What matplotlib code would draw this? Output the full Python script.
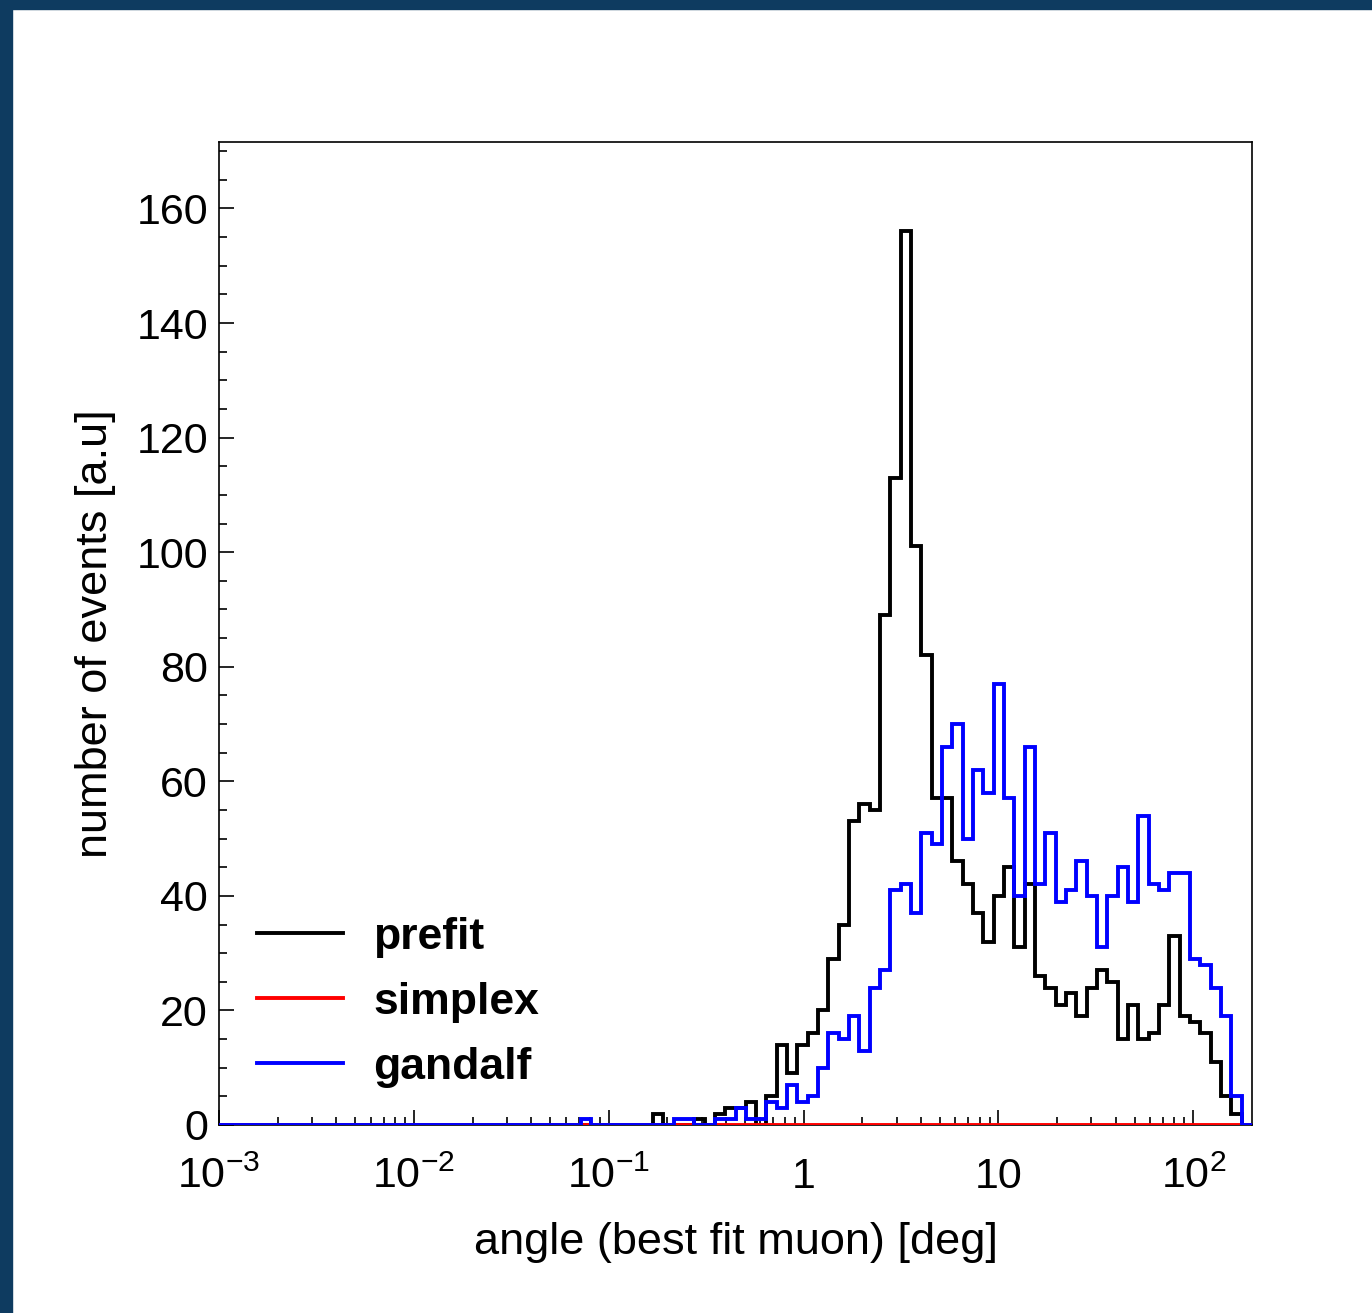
import numpy as np
import matplotlib
matplotlib.use("Agg")
import matplotlib.pyplot as plt
from matplotlib.patches import Rectangle
from matplotlib.lines import Line2D
from matplotlib.ticker import FixedLocator, NullFormatter
import matplotlib.transforms as mtransforms

plt.rcParams['font.family'] = ['Liberation Sans', 'DejaVu Sans']
plt.rcParams['mathtext.fontset'] = 'custom'
plt.rcParams['mathtext.rm'] = 'Liberation Sans'
plt.rcParams['mathtext.it'] = 'Liberation Sans:italic'
plt.rcParams['mathtext.bf'] = 'Liberation Sans:bold'

# ---- data: 100 log-spaced bins from 1e-3 to 200 deg ----
n_bins = 100
x_min, x_max = 1e-3, 200.0

prefit = [0] * 42 + [2, 0, 0, 0, 1, 0, 2, 3, 3, 4, 0,
          5, 14, 9, 14, 16, 20, 29, 35, 53, 56, 55,
          89, 113, 156, 101, 82, 57, 57, 46, 42, 37, 32, 40, 45, 31, 42,
          26, 24, 21, 23, 19, 24, 27, 25, 15, 21, 15, 16, 21, 33, 19,
          18, 16, 11, 5, 2, 0]

simplex = [0] * 100

gandalf = [0] * 35 + [1] + [0] * 8 + [1, 1, 0, 0, 1, 1, 3, 1, 1,
           4, 3, 7, 4, 5, 10, 16, 15, 19, 13, 24,
           27, 41, 42, 37, 51, 49, 66, 70, 50, 62, 58, 77, 57, 40, 66,
           42, 51, 39, 41, 46, 40, 31, 40, 45, 39, 54, 42, 41, 44, 44,
           29, 28, 24, 19, 5, 0]

series_names = ["prefit", "simplex", "gandalf"]
series_colors = ["black", "#ff0000", "#0000ff"]

x_tick_values = [1e-3, 1e-2, 1e-1, 1, 10, 100]
x_tick_labels = [r"$10^{-3}$", r"$10^{-2}$", r"$10^{-1}$", "1", "10", r"$10^{2}$"]
y_tick_values = [0, 20, 40, 60, 80, 100, 120, 140, 160]
y_max = 171.6

edges = np.logspace(np.log10(x_min), np.log10(x_max), n_bins + 1)

W, H = 1372, 1313
fig = plt.figure(figsize=(W / 100, H / 100), dpi=100, facecolor="white")

# dark blue slide border strips
bg = "#0e3b60"
fig.add_artist(Rectangle((0, 0), 12 / W, 1, transform=fig.transFigure, color=bg, zorder=0))
fig.add_artist(Rectangle((0, 1 - 9 / H), 1, 9 / H, transform=fig.transFigure, color=bg, zorder=0))

ax = fig.add_axes([219 / W, (H - 1125) / H, (1252 - 219) / W, (1125 - 142) / H])

lw = 2.8
ax.stairs(prefit, edges, color=series_colors[0], lw=lw, zorder=3)
ax.stairs(simplex, edges, color=series_colors[1], lw=lw, zorder=3.5)
ax.stairs(gandalf, edges, color=series_colors[2], lw=lw, zorder=4)

ax.set_xscale("log")
ax.set_xlim(x_min, x_max)
ax.set_ylim(0, y_max)

for sp in ax.spines.values():
    sp.set_linewidth(1.2)
    sp.set_zorder(2)

# y ticks
ax.yaxis.set_major_locator(FixedLocator(y_tick_values))
ax.yaxis.set_minor_locator(FixedLocator(np.arange(0, y_max, 5)))
ax.tick_params(axis="y", which="major", direction="in", length=11, width=1.2,
               labelsize=31, pad=8, right=False)
ax.tick_params(axis="y", which="minor", direction="in", length=5.5, width=1.2, right=False)

# x ticks
ax.xaxis.set_major_locator(FixedLocator(x_tick_values))
minors = [m * 10.0 ** d for d in range(-3, 3) for m in range(2, 10) if m * 10.0 ** d < x_max]
ax.xaxis.set_minor_locator(FixedLocator(minors))
ax.xaxis.set_major_formatter(NullFormatter())
ax.xaxis.set_minor_formatter(NullFormatter())
ax.tick_params(axis="x", which="major", direction="in", length=10.5, width=1.2, top=False)
ax.tick_params(axis="x", which="minor", direction="in", length=5.5, width=1.2, top=False)

trans = mtransforms.blended_transform_factory(ax.transData, ax.transAxes)
for v, lab in zip(x_tick_values, x_tick_labels):
    ax.text(v, -0.064, lab, transform=trans, ha="center", va="baseline", fontsize=31)

ax.set_xlabel("angle (best fit muon) [deg]", fontsize=32.5)
ax.xaxis.set_label_coords(0.5, -0.099)
ax.set_ylabel("number of events [a.u]", fontsize=32.5)
ax.yaxis.set_label_coords(-0.1, 0.5)

handles = [Line2D([], [], color=c, lw=lw) for c in series_colors]
leg = ax.legend(handles, series_names, loc="upper left", bbox_to_anchor=(0.0368, 0.212),
                frameon=False, borderpad=0, borderaxespad=0, handlelength=1.94,
                handletextpad=0.68, labelspacing=0.545,
                prop={"family": "Liberation Sans", "weight": "bold", "size": 32})

fig.savefig("out.png", dpi=100, facecolor="white")
